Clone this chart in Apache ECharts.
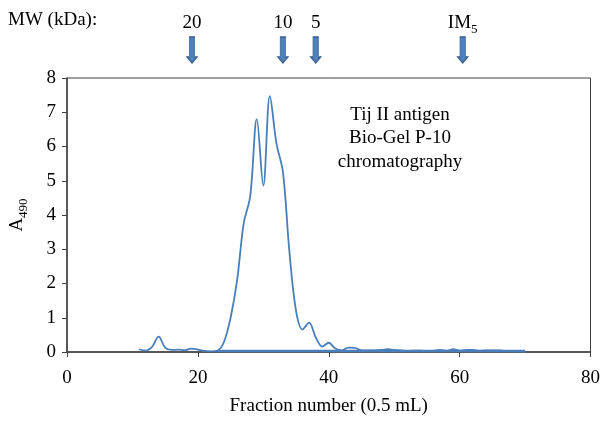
<!DOCTYPE html>
<html>
<head>
<meta charset="utf-8">
<script src="https://cdn.jsdelivr.net/npm/echarts@6/dist/echarts.min.js"></script>
<style>html,body{margin:0;padding:0;background:#fff}#c{width:603px;height:421px}</style>
</head>
<body>
<div id="c"></div>
<script>
// Fraction numbers and A490 absorbance
var fractions = [11,12,13,14,15,16,17,18,19,20,21,22,23,24,25,26,27,28,29,30,31,32,33,34,35,36,37,38,39,40,41,42,43,44,45,46,47,48,49,50,51,52,53,54,55,56,57,58,59,60,61,62,63,64,65,66,67,68,69,70];
var absorbance = [0.08,0.04,0.15,0.45,0.13,0.06,0.07,0.05,0.10,0.07,0.03,0.02,0.04,0.30,1.00,2.10,3.75,4.55,6.80,4.86,7.47,6.10,5.25,2.90,1.20,0.66,0.86,0.43,0.16,0.27,0.10,0.05,0.13,0.12,0.05,0.05,0.05,0.06,0.08,0.06,0.05,0.03,0.04,0.04,0.03,0.03,0.06,0.03,0.08,0.04,0.06,0.06,0.03,0.05,0.05,0.05,0.03,0.03,0.02,0.01];
// flat baseline segment drawn in the reference
var baselineX = [23, 70];
var baselineY = [0.03, 0.03];
// molecular-weight markers
var markerX = [19.05, 32.9, 37.9, 60.3];
var markerMain = ['20', '10', '5', 'IM'];
var markerSub = ['', '', '', '5'];
var xTicks = [0, 20, 40, 60, 80];
var yTicks = [0, 1, 2, 3, 4, 5, 6, 7, 8];

var FONT = 'Liberation Serif';
var FS = 19;
var curve = fractions.map(function (f, i) { return [f, absorbance[i]]; });
var base = baselineX.map(function (f, i) { return [f, baselineY[i]]; });
var markers = markerX.map(function (f, i) { return { value: [f, 0.5], name: markerMain[i], sub: markerSub[i] }; });

var chart = echarts.init(document.getElementById('c'), null, { renderer: 'canvas' });
chart.setOption({
  animation: false,
  backgroundColor: '#fff',
  textStyle: { fontFamily: FONT },
  grid: [
    { left: 67, top: 78, width: 525, height: 277, show: true, borderColor: '#404040', borderWidth: 1, backgroundColor: 'transparent' },
    { left: 67, top: 37, width: 525, height: 26 }
  ],
  xAxis: [
    {
      gridIndex: 0, type: 'value', min: xTicks[0], max: xTicks[xTicks.length - 1], interval: 20,
      name: 'Fraction number (0.5 mL)', nameLocation: 'middle', nameGap: 45,
      nameTextStyle: { fontFamily: FONT, fontSize: FS, color: '#000' },
      axisLine: { show: true, lineStyle: { color: '#404040', width: 1.5 } },
      axisTick: { show: true, inside: false, length: 5, lineStyle: { color: '#404040' } },
      axisLabel: { fontFamily: FONT, fontSize: FS, color: '#000', margin: 17 },
      splitLine: { show: false }
    },
    { gridIndex: 1, type: 'value', min: 0, max: 80, show: false }
  ],
  yAxis: [
    {
      gridIndex: 0, type: 'value', min: yTicks[0], max: yTicks[yTicks.length - 1], interval: 1,
      name: '{a|A}{s|490}', nameLocation: 'middle', nameGap: 40, nameRotate: 90,
      nameTextStyle: {
        fontFamily: FONT, color: '#000',
        rich: {
          a: { fontFamily: FONT, fontSize: FS, color: '#000', lineHeight: 24, verticalAlign: 'bottom' },
          s: { fontFamily: FONT, fontSize: 13, color: '#000', lineHeight: 24, verticalAlign: 'bottom', padding: [0, 0, -3, 0] }
        }
      },
      axisLine: { show: true, lineStyle: { color: '#404040', width: 1.5 } },
      axisTick: { show: true, inside: false, length: 5, lineStyle: { color: '#404040' } },
      axisLabel: { fontFamily: FONT, fontSize: FS, color: '#000', margin: 11 },
      splitLine: { show: false }
    },
    { gridIndex: 1, type: 'value', min: 0, max: 1, show: false }
  ],
  series: [
    {
      type: 'line', xAxisIndex: 0, yAxisIndex: 0, data: curve, smooth: 0.35,
      showSymbol: false, symbol: 'none',
      lineStyle: { color: '#4a7ebb', width: 1.8 }
    },
    {
      type: 'line', xAxisIndex: 0, yAxisIndex: 0, data: base,
      showSymbol: false, symbol: 'none',
      lineStyle: { color: '#4a7ebb', width: 2.5 }
    },
    {
      type: 'scatter', xAxisIndex: 1, yAxisIndex: 1, data: markers,
      symbol: 'path://M2.5,0 L8.5,0 L8.5,20 L11,20 L5.5,26 L0,20 L2.5,20 Z',
      symbolSize: [10, 26],
      itemStyle: { color: '#4f81bd', borderColor: '#385d8a', borderWidth: 1, opacity: 1 },
      label: {
        show: true, position: 'top', distance: 4,
        formatter: function (p) { return p.data.sub ? '{m|' + p.data.name + '}{s|' + p.data.sub + '}' : '{m|' + p.data.name + '}'; },
        rich: {
          m: { fontFamily: FONT, fontSize: FS, color: '#000', lineHeight: 24, verticalAlign: 'bottom' },
          s: { fontFamily: FONT, fontSize: 13, color: '#000', lineHeight: 24, verticalAlign: 'bottom', padding: [0, 0, -4, 0] }
        }
      }
    }
  ],
  graphic: [
    { type: 'text', left: 8, top: 11, style: { text: 'MW (kDa):', font: FS + 'px "Liberation Serif"', fill: '#000' } },
    { type: 'text', x: 400, y: 103, style: { text: 'Tij II antigen\nBio-Gel P-10\nchromatography', font: FS + 'px "Liberation Serif"', fill: '#000', align: 'center', lineHeight: 23.5 } }
  ]
});
</script>
</body>
</html>
